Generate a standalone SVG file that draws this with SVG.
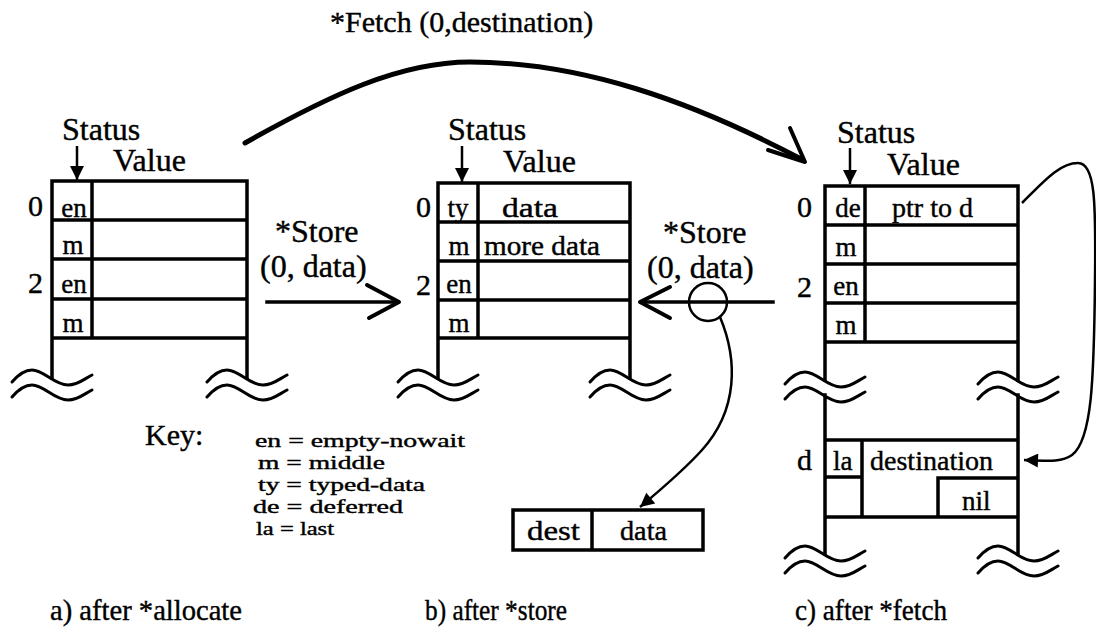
<svg xmlns="http://www.w3.org/2000/svg" width="1096" height="636" viewBox="0 0 1096 636">
  <style>
    .ln { fill: none; stroke: #000; stroke-width: 3.5; stroke-linecap: square; }
    .thin { fill: none; stroke: #000; stroke-width: 2.5; }
    .wave { fill: none; stroke: #000; stroke-width: 3; stroke-linecap: round; }
    .arw { fill: none; stroke: #000; stroke-width: 4; stroke-linecap: round; stroke-linejoin: round; }
    text { font-family: "Liberation Serif", "Times New Roman", serif; fill: #000; stroke: #000; stroke-width: 0.4; }
    .hd { font-size: 32px; }
    .cell { font-size: 27px; }
    .idx { font-size: 30px; }
    .key { font-size: 19px; }
    .cap { font-size: 30px; }
    .mid { text-anchor: middle; }
  </style>
  <defs>
    <!-- break mark: two parallel tilde strokes -->
    <path id="brk" d="M0,12 C6,5 12,0 20,0 C32,0 42,15 56,15 C66,15 72,9 80,5 M0,27 C6,20 12,15 20,15 C32,15 42,30 56,30 C66,30 72,24 80,20"/>
    <marker id="solid" viewBox="0 0 10 10" refX="10" refY="5" markerWidth="16" markerHeight="14" markerUnits="userSpaceOnUse" orient="auto">
      <path d="M0,0 L10,5 L0,10 Z" fill="#000"/>
    </marker>
  </defs>

  <!-- a) after *allocate -->
  <g id="table-a">
    <text class="hd" x="62" y="140">Status</text>
    <text class="hd" x="113" y="171">Value</text>
    <line class="thin" x1="77" y1="146" x2="77" y2="180" marker-end="url(#solid)"/>
    <path class="ln" d="M52,181 H247 M52,220 H247 M52,259 H247 M52,299 H247 M52,338 H247 M92,181 V338 M52,181 V378 M247,181 V378"/>
    <use href="#brk" class="wave" x="12" y="370"/>
    <use href="#brk" class="wave" x="207" y="370"/>
    <text class="idx" x="28" y="216">0</text>
    <text class="idx" x="28" y="293">2</text>
    <text class="cell mid" x="74" y="217">en</text>
    <text class="cell mid" x="73" y="254">m</text>
    <text class="cell mid" x="74" y="293">en</text>
    <text class="cell mid" x="73" y="332">m</text>
  </g>

  <!-- b) after *store -->
  <g id="table-b">
    <text class="hd" x="448" y="140">Status</text>
    <text class="hd" x="503" y="172">Value</text>
    <line class="thin" x1="462" y1="146" x2="462" y2="182" marker-end="url(#solid)"/>
    <path class="ln" d="M438,183 H630 M438,222 H630 M438,261 H630 M438,300 H630 M438,338 H630 M478,183 V338 M438,183 V378 M630,183 V378"/>
    <use href="#brk" class="wave" x="398" y="370"/>
    <use href="#brk" class="wave" x="590" y="370"/>
    <text class="idx" x="416" y="217">0</text>
    <text class="idx" x="416" y="295">2</text>
    <text class="cell mid" x="458" y="217">ty</text>
    <text class="cell mid" x="459" y="255">m</text>
    <text class="cell mid" x="459" y="293">en</text>
    <text class="cell mid" x="459" y="332">m</text>
    <text class="cell" x="502" y="217" textLength="56" lengthAdjust="spacingAndGlyphs">data</text>
    <text class="cell" x="484" y="255" textLength="116" lengthAdjust="spacingAndGlyphs">more data</text>
  </g>

  <!-- c) after *fetch -->
  <g id="table-c">
    <text class="hd" x="837" y="143">Status</text>
    <text class="hd" x="887" y="175">Value</text>
    <line class="thin" x1="850" y1="148" x2="850" y2="184" marker-end="url(#solid)"/>
    <path class="ln" d="M825,186 H1018 M825,225 H1018 M825,264 H1018 M825,303 H1018 M825,342 H1018 M865,186 V342 M825,186 V380 M1018,186 V380"/>
    <use href="#brk" class="wave" x="785" y="372"/>
    <use href="#brk" class="wave" x="978" y="372"/>
    <path class="ln" d="M825,395 V554 M1018,395 V554 M825,440 H1018 M825,517 H1018 M862,440 V517 M825,477 H862 M938,478 H1018 M938,478 V517"/>
    <use href="#brk" class="wave" x="785" y="546"/>
    <use href="#brk" class="wave" x="978" y="546"/>
    <text class="idx" x="797" y="217">0</text>
    <text class="idx" x="797" y="297">2</text>
    <text class="idx" x="797" y="470">d</text>
    <text class="cell mid" x="848" y="217">de</text>
    <text class="cell mid" x="846" y="256">m</text>
    <text class="cell mid" x="846" y="295">en</text>
    <text class="cell mid" x="846" y="334">m</text>
    <text class="cell" x="892" y="217" textLength="81" lengthAdjust="spacingAndGlyphs">ptr to d</text>
    <text class="cell" x="833" y="470">la</text>
    <text class="cell" x="870" y="470" textLength="123" lengthAdjust="spacingAndGlyphs">destination</text>
    <text class="cell" x="962" y="510">nil</text>
  </g>

  <!-- message record -->
  <g id="message">
    <path class="ln" d="M513,510 H703 V550 H513 Z M592,510 V550"/>
    <text class="cell" x="527" y="540" textLength="53" lengthAdjust="spacingAndGlyphs">dest</text>
    <text class="cell" x="620" y="540" textLength="47" lengthAdjust="spacingAndGlyphs">data</text>
  </g>

  <!-- legend -->
  <g id="key">
    <text class="cap" x="145" y="445">Key:</text>
    <text class="key" x="255" y="447" textLength="210" lengthAdjust="spacingAndGlyphs">en = empty-nowait</text>
    <text class="key" x="258" y="469" textLength="127" lengthAdjust="spacingAndGlyphs">m = middle</text>
    <text class="key" x="258" y="491" textLength="167" lengthAdjust="spacingAndGlyphs">ty = typed-data</text>
    <text class="key" x="253" y="513" textLength="150" lengthAdjust="spacingAndGlyphs">de = deferred</text>
    <text class="key" x="256" y="535" textLength="78" lengthAdjust="spacingAndGlyphs">la = last</text>
  </g>

  <!-- captions -->
  <g id="captions">
    <text class="cap" x="50" y="620" textLength="192" lengthAdjust="spacingAndGlyphs">a) after *allocate</text>
    <text class="cap" x="425" y="620" textLength="142" lengthAdjust="spacingAndGlyphs">b) after *store</text>
    <text class="cap" x="795" y="620" textLength="152" lengthAdjust="spacingAndGlyphs">c) after *fetch</text>
  </g>

  <!-- operations between states -->
  <g id="connectors">
    <text class="cap" x="330" y="32">*Fetch (0,destination)</text>
    <path d="M245,143 C330,95 400,62 470,62 C580,62 690,100 803,160" fill="none" stroke="#000" stroke-width="5" stroke-linecap="round"/>
    <path class="arw" d="M790,128 L805,162 L768,150"/>

    <text class="hd" x="275" y="242">*Store</text>
    <text class="hd" x="260" y="277">(0, data)</text>
    <line class="ln" x1="267" y1="302" x2="396" y2="302"/>
    <path class="arw" d="M367,285 L399,302 L369,318"/>

    <text class="hd" x="663" y="243">*Store</text>
    <text class="hd" x="647" y="278">(0, data)</text>
    <line class="ln" x1="773" y1="302" x2="642" y2="302"/>
    <path class="arw" d="M670,287 L640,302 L670,318"/>
    <circle class="thin" cx="708" cy="302" r="19"/>
    <path class="thin" d="M720,317 C738,360 738,410 702,450 C684,470 664,487 640,507" marker-end="url(#solid)"/>

    <path class="thin" d="M1022,203 C1045,180 1060,163 1078,163 C1095,163 1096,200 1095,280 C1094,380 1092,440 1072,455 C1062,462 1050,461 1024,460" marker-end="url(#solid)"/>
  </g>
</svg>
